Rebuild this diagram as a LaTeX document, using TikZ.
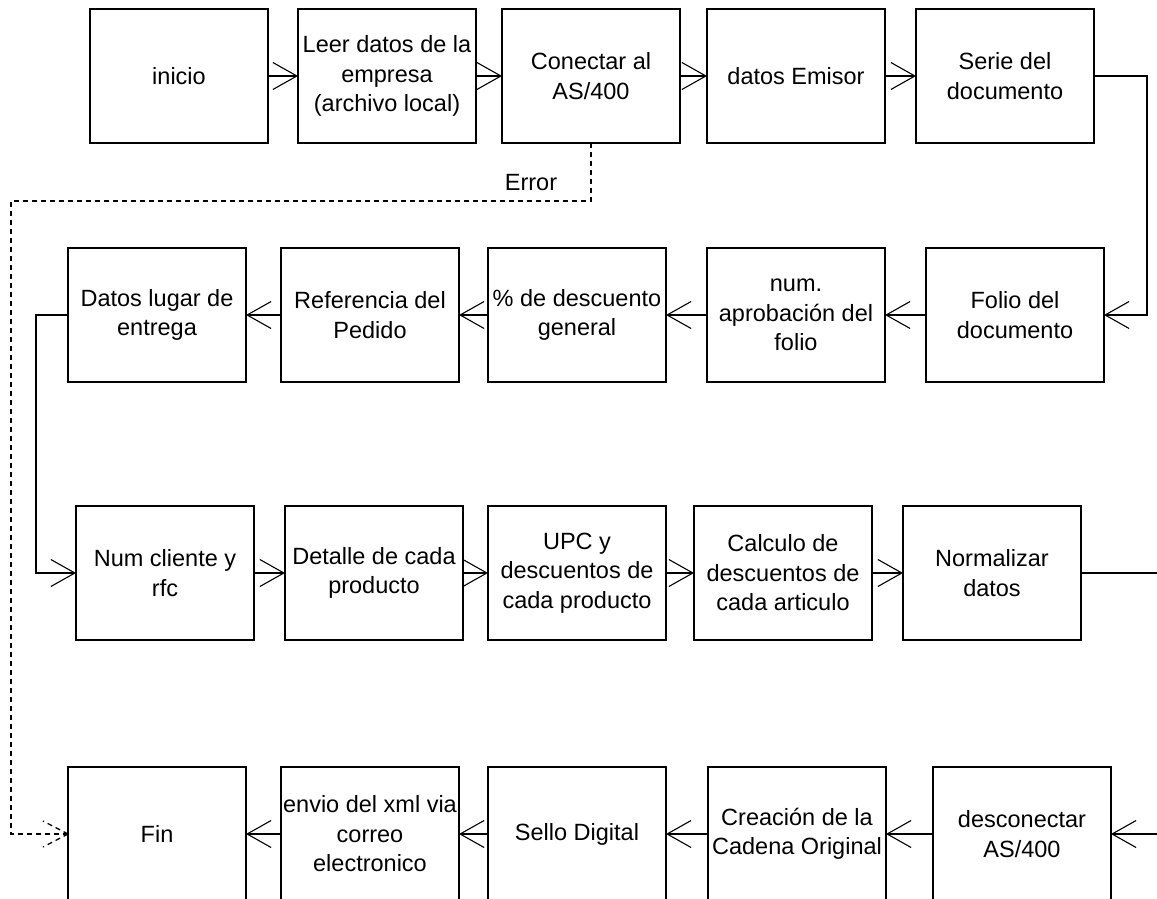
\documentclass[tikz,border=0pt]{standalone}
\usepackage{fontspec}
\setmainfont{Liberation Sans}
\usetikzlibrary{arrows.meta}
\begin{document}
\begin{tikzpicture}[x=1pt,y=-1pt,
  box/.style={draw=black, line width=1.4pt, rectangle, anchor=north west,
    minimum width=178pt, minimum height=134pt, inner xsep=0pt, inner ysep=2pt,
    outer sep=0pt, align=center, font=\fontsize{23.5}{29.5}\selectfont},
  arr/.style={line width=1.4pt, -{Straight Barb[length=24pt, width=27pt, line width=1.1pt]}},
  errline/.style={line width=1.3pt, dash pattern=on 5pt off 4pt},
  lbl/.style={font=\fontsize{23.5}{29.5}\selectfont, inner sep=0pt}]
\useasboundingbox (0,0) rectangle (1157,899);
\fill[white] (0,0) rectangle (1157,899);
% Row 1
\node[box] (inicio) at (90,9) {inicio};
\node[box] (leer) at (298,9) {Leer datos de la\\empresa\\(archivo local)};
\node[box] (conectar) at (502,9) {Conectar al\\AS/400};
\node[box] (emisor) at (707,9) {datos Emisor};
\node[box] (serie) at (916,9) {Serie del\\documento};
% Row 2
\node[box] (datos) at (68,248) {Datos lugar de\\entrega};
\node[box] (ref) at (281,248) {Referencia del\\Pedido};
\node[box] (pct) at (488,248) {\% de descuento\\general};
\node[box] (num) at (707,248) {num.\\aprobación del\\folio};
\node[box] (folio) at (926,248) {Folio del\\documento};
% Row 3
\node[box] (numc) at (76,506) {Num cliente y\\rfc};
\node[box] (det) at (285,506) {Detalle de cada\\producto};
\node[box] (upc) at (488,506) {UPC y\\descuentos de\\cada producto};
\node[box] (calc) at (694,506) {Calculo de\\descuentos de\\cada articulo};
\node[box] (norm) at (903,506) {Normalizar\\datos};
% Row 4
\node[box] (fin) at (68,767) {Fin};
\node[box] (envio) at (281,767) {envio del xml via\\correo\\electronico};
\node[box] (sello) at (488,767) {Sello Digital};
\node[box] (crea) at (708,767) {Creación de la\\Cadena Original};
\node[box] (desc) at (933,767) {desconectar\\AS/400};
% helper coordinates
\coordinate (rcol) at (1147,0);
\coordinate (lcol) at (36,0);
\coordinate (rout) at (1157,573);
\coordinate (rin) at (1157,834);
\coordinate (ecorner) at (11,201);
% Row 1 connectors
\draw[arr] (inicio.east) -- (leer.west);
\draw[arr] (leer.east) -- (conectar.west);
\draw[arr] (conectar.east) -- (emisor.west);
\draw[arr] (emisor.east) -- (serie.west);
\draw[arr] (serie.east) -- (serie.east -| rcol) |- (folio.east);
% Row 2 connectors
\draw[arr] (folio.west) -- (num.east);
\draw[arr] (num.west) -- (pct.east);
\draw[arr] (pct.west) -- (ref.east);
\draw[arr] (ref.west) -- (datos.east);
\draw[arr] (datos.west) -- (datos.west -| lcol) |- (numc.west);
% Row 3 connectors
\draw[arr] (numc.east) -- (det.west);
\draw[arr] (det.east) -- (upc.west);
\draw[arr] (upc.east) -- (calc.west);
\draw[arr] (calc.east) -- (norm.west);
\draw[line width=1.4pt] (norm.east) -- (rout);
% Row 4 connectors
\draw[arr] (rin) -- (desc.east);
\draw[arr] (desc.west) -- (crea.east);
\draw[arr] (crea.west) -- (sello.east);
\draw[arr] (sello.west) -- (envio.east);
\draw[arr] (envio.west) -- (fin.west -| fin.east);
% Error path
\draw[errline] (conectar.south) |- (ecorner) |- (fin.west);
\draw[errline] (fin.west) -- ++(-25,-13);
\draw[errline] (fin.west) -- ++(-25,13);
\node[lbl] (err) at (531,183) {Error};
\end{tikzpicture}
\end{document}
